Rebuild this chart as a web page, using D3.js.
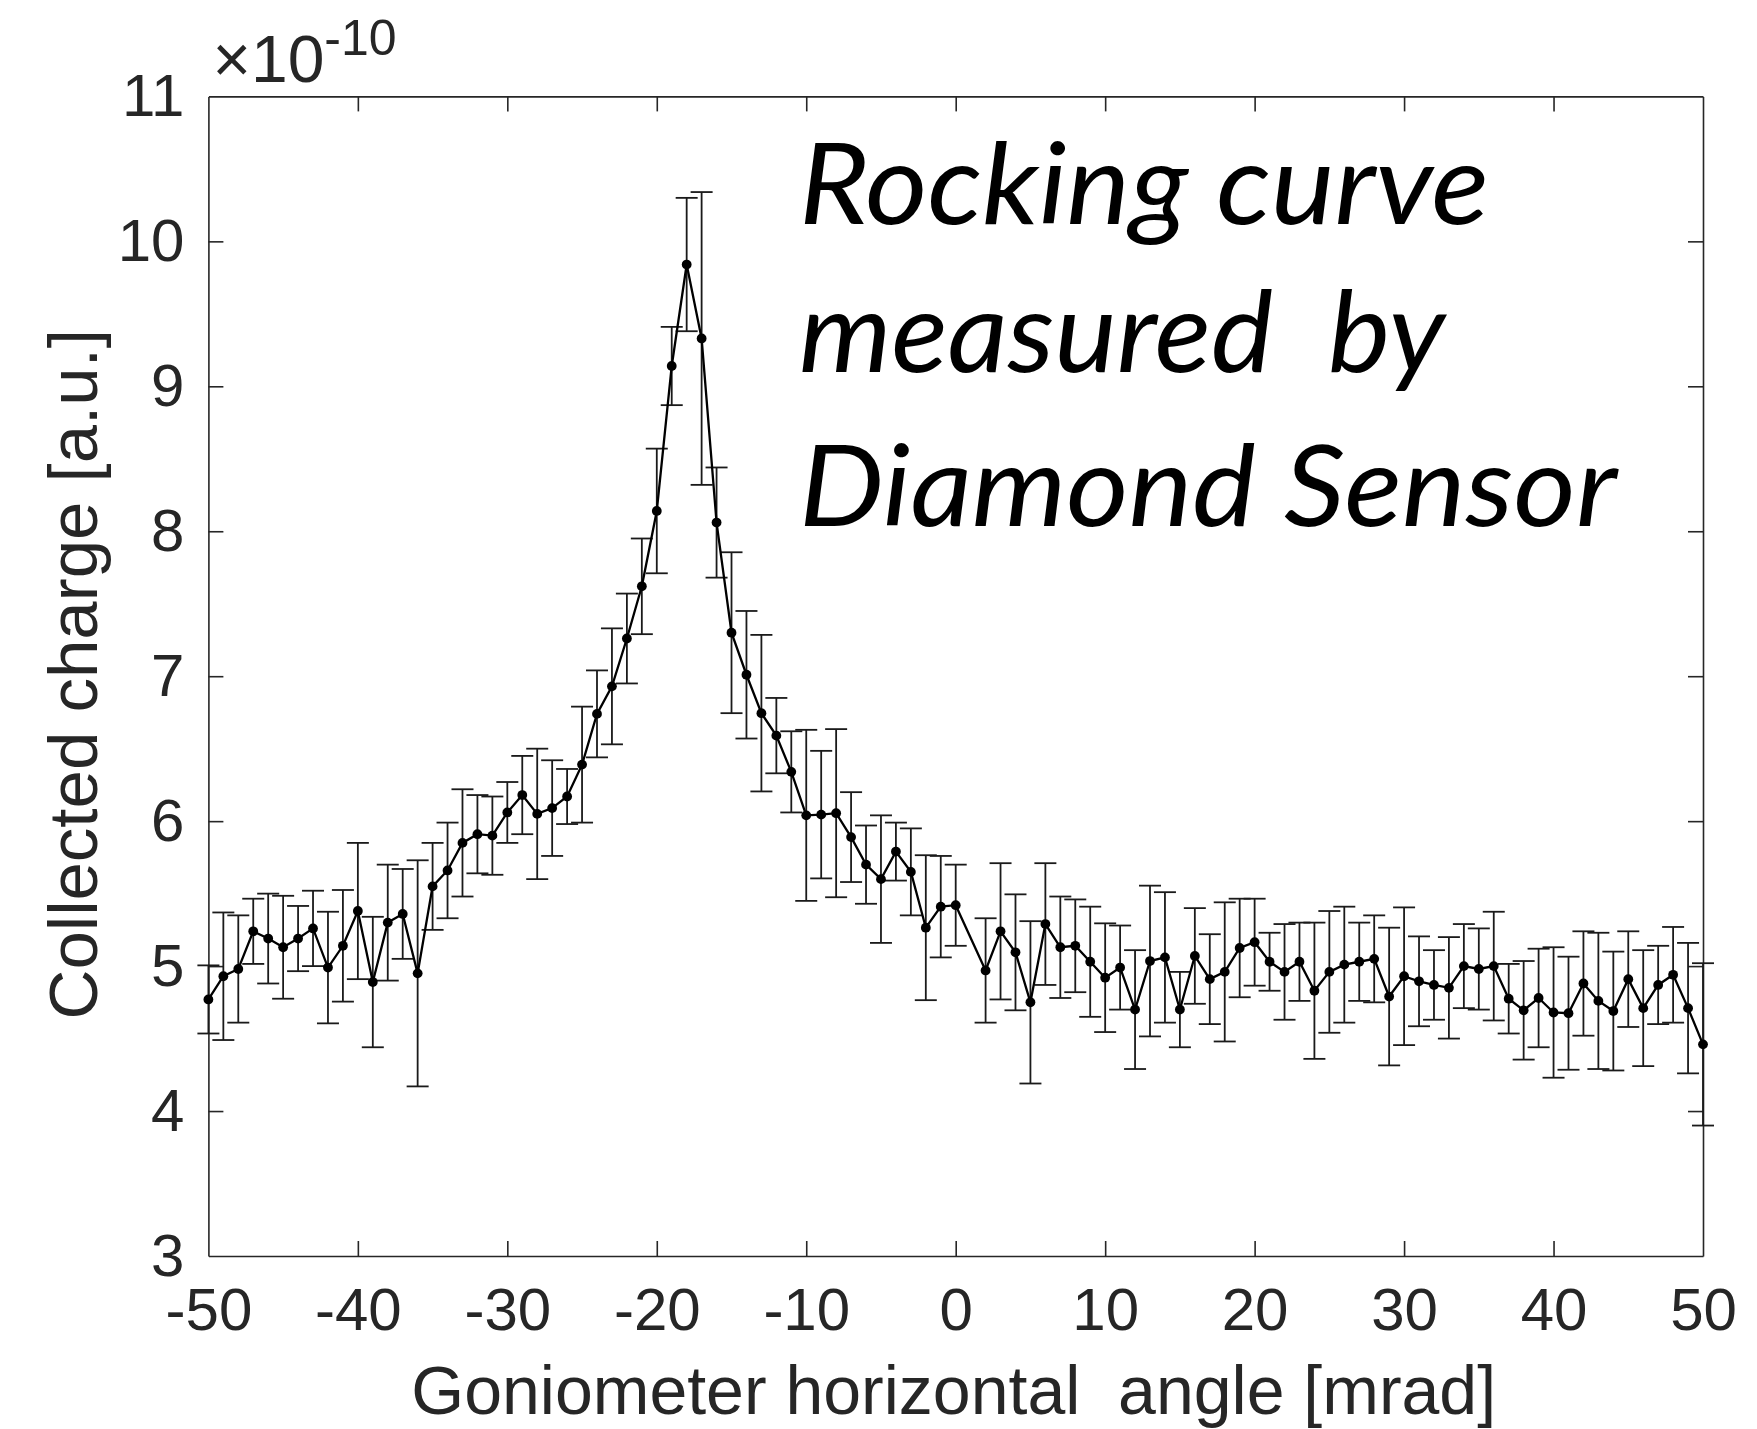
<!DOCTYPE html>
<html>
<head>
<meta charset="utf-8">
<script src="https://cdn.jsdelivr.net/npm/d3@7"></script>
<style>
  html, body { margin: 0; padding: 0; background: #ffffff; }
  svg { display: block; }
  .axis text { font-family: "Liberation Sans", Arial, Helvetica, sans-serif; fill: #262626; }
</style>
</head>
<body>
<svg id="chart" width="1757" height="1429"></svg>
<script>
// ---- data ----
const angles = [-50,-49,-48,-47,-46,-45,-44,-43,-42,-41,-40,-39,-38,-37,-36,-35,-34,-33,-32,-31,
  -30,-29,-28,-27,-26,-25,-24,-23,-22,-21,-20,-19,-18,-17,-16,-15,-14,-13,-12,-11,
  -10,-9,-8,-7,-6,-5,-4,-3,-2,-1,0,2,3,4,5,6,7,8,9,10,
  11,12,13,14,15,16,17,18,19,20,21,22,23,24,25,26,27,28,29,30,
  31,32,33,34,35,36,37,38,39,40,41,42,43,44,45,46,47,48,49,50];
const charge = [4.77,4.93,4.98,5.24,5.19,5.13,5.19,5.26,4.99,5.14,5.38,4.89,5.30,5.36,4.95,5.55,5.66,5.85,5.91,5.90,
  6.06,6.18,6.05,6.09,6.17,6.39,6.74,6.93,7.26,7.62,8.14,9.14,9.84,9.33,8.06,7.30,7.01,6.745,6.59,6.34,
  6.04,6.045,6.055,5.89,5.70,5.60,5.79,5.65,5.265,5.41,5.42,4.97,5.24,5.095,4.75,5.29,5.13,5.14,5.03,4.92,
  4.99,4.70,5.035,5.06,4.70,5.07,4.91,4.96,5.125,5.165,5.03,4.96,5.03,4.83,4.96,5.01,5.03,5.05,4.79,4.93,
  4.895,4.87,4.85,5.00,4.98,5.00,4.775,4.695,4.78,4.68,4.675,4.88,4.76,4.69,4.91,4.71,4.87,4.94,4.71,4.46];
const chargeErr = [0.235,0.44,0.37,0.225,0.31,0.355,0.225,0.26,0.385,0.385,0.47,0.45,0.40,0.31,0.78,0.30,0.33,0.37,0.27,0.27,
  0.21,0.27,0.45,0.33,0.19,0.40,0.30,0.40,0.31,0.33,0.43,0.27,0.46,1.01,0.38,0.555,0.44,0.54,0.26,0.28,
  0.59,0.44,0.58,0.31,0.27,0.44,0.20,0.30,0.50,0.35,0.28,0.36,0.47,0.40,0.56,0.42,0.35,0.32,0.38,0.375,
  0.29,0.41,0.52,0.45,0.26,0.33,0.31,0.48,0.34,0.30,0.20,0.33,0.27,0.47,0.42,0.40,0.27,0.30,0.475,0.475,
  0.31,0.24,0.35,0.29,0.28,0.375,0.24,0.34,0.34,0.45,0.39,0.36,0.47,0.41,0.33,0.40,0.27,0.33,0.45,0.56];
const xTicks = [-50,-40,-30,-20,-10,0,10,20,30,40,50];
const yTicks = [3,4,5,6,7,8,9,10,11];
const xLabel = "Goniometer horizontal\u00a0 angle [mrad]";
const yLabel = "Collected charge [a.u.]";
const annotationLines = ["Rocking curve", "measured\u00a0 by", "Diamond Sensor"];

// ---- layout ----
const plot = { left: 208.4, right: 1703, top: 96.4, bottom: 1256 };
const axisColor = "#262626";
const svg = d3.select("#chart");

const x = d3.scaleLinear().domain([-50, 50]).range([plot.left, plot.right]);
const y = d3.scaleLinear().domain([3, 11]).range([plot.bottom, plot.top]);

const data = angles.map((a, i) => ({ a, v: charge[i], e: chargeErr[i] }));
const plainFmt = d => String(d);   // ASCII hyphen minus, as in the reference

// axes (ticks pointing inward, MATLAB box style)
const tickLen = 15;
const gB = svg.append("g").attr("class", "axis").attr("transform", `translate(0,${plot.bottom})`)
  .call(d3.axisBottom(x).tickValues(xTicks).tickFormat(plainFmt).tickSizeInner(-tickLen).tickSizeOuter(0).tickPadding(31));
const gT = svg.append("g").attr("class", "axis").attr("transform", `translate(0,${plot.top})`)
  .call(d3.axisTop(x).tickValues(xTicks).tickFormat("").tickSizeInner(-tickLen).tickSizeOuter(0));
const gL = svg.append("g").attr("class", "axis").attr("transform", `translate(${plot.left},0)`)
  .call(d3.axisLeft(y).tickValues(yTicks).tickFormat(plainFmt).tickSizeInner(-tickLen).tickSizeOuter(0).tickPadding(24));
const gR = svg.append("g").attr("class", "axis").attr("transform", `translate(${plot.right},0)`)
  .call(d3.axisRight(y).tickValues(yTicks).tickFormat("").tickSizeInner(-tickLen).tickSizeOuter(0));

[gB, gT, gL, gR].forEach(g => {
  g.selectAll(".domain").attr("stroke", axisColor).attr("stroke-width", 1.6);
  g.selectAll(".tick line").attr("stroke", axisColor).attr("stroke-width", 1.6);
  g.selectAll(".tick text").attr("font-size", 60).attr("fill", axisColor);
});
[gB, gT].forEach(g => g.selectAll(".tick line").filter(d => d === -50 || d === 50).remove());
[gL, gR].forEach(g => g.selectAll(".tick line").filter(d => d === 3 || d === 11).remove());

// exponent label
const expo = svg.append("text")
  .attr("x", plot.left + 4).attr("y", 82)
  .attr("font-family", "\"Liberation Sans\", Arial, sans-serif")
  .attr("fill", axisColor);
expo.append("tspan").attr("font-size", 66).text("\u00d710");
expo.append("tspan").attr("font-size", 50).attr("dy", -27).text("-10");

// axis labels
svg.append("text")
  .attr("x", (plot.left + plot.right) / 2 - 2).attr("y", 1414)
  .attr("text-anchor", "middle")
  .attr("font-family", "\"Liberation Sans\", Arial, sans-serif")
  .attr("font-size", 68).attr("fill", axisColor)
  .text(xLabel);
svg.append("text")
  .attr("transform", `translate(97,${(plot.top + plot.bottom) / 2 - 2}) rotate(-90)`)
  .attr("text-anchor", "middle")
  .attr("font-family", "\"Liberation Sans\", Arial, sans-serif")
  .attr("font-size", 69).attr("fill", axisColor)
  .text(yLabel);

// error bars
const capHalf = 11;
const eb = svg.append("g").attr("stroke", "#1a1a1a").attr("stroke-width", 1.8).attr("fill", "none");
eb.selectAll("line.v").data(data).join("line").attr("class", "v")
  .attr("x1", d => x(d.a)).attr("x2", d => x(d.a))
  .attr("y1", d => y(d.v - d.e)).attr("y2", d => y(d.v + d.e));
eb.selectAll("line.t").data(data).join("line").attr("class", "t")
  .attr("x1", d => x(d.a) - capHalf).attr("x2", d => x(d.a) + capHalf)
  .attr("y1", d => y(d.v + d.e)).attr("y2", d => y(d.v + d.e));
eb.selectAll("line.b").data(data).join("line").attr("class", "b")
  .attr("x1", d => x(d.a) - capHalf).attr("x2", d => x(d.a) + capHalf)
  .attr("y1", d => y(d.v - d.e)).attr("y2", d => y(d.v - d.e));

// data line
svg.append("path").datum(data)
  .attr("fill", "none").attr("stroke", "#000").attr("stroke-width", 2.3)
  .attr("d", d3.line().x(d => x(d.a)).y(d => y(d.v)));

// markers
svg.append("g").selectAll("circle").data(data).join("circle")
  .attr("cx", d => x(d.a)).attr("cy", d => y(d.v)).attr("r", 4.9).attr("fill", "#000");

// annotation
const annBase = [224, 372, 526];
const annWidth = [690, 646, 818];
const ann = svg.append("g")
  .attr("font-family", "Lato, \"Open Sans\", sans-serif")
  .attr("font-style", "italic").attr("font-size", 112).attr("fill", "#000");
annotationLines.forEach((t, i) => {
  ann.append("text").attr("x", 799).attr("y", annBase[i])
    .attr("textLength", annWidth[i]).attr("lengthAdjust", "spacingAndGlyphs")
    .text(t);
});
</script>
</body>
</html>
